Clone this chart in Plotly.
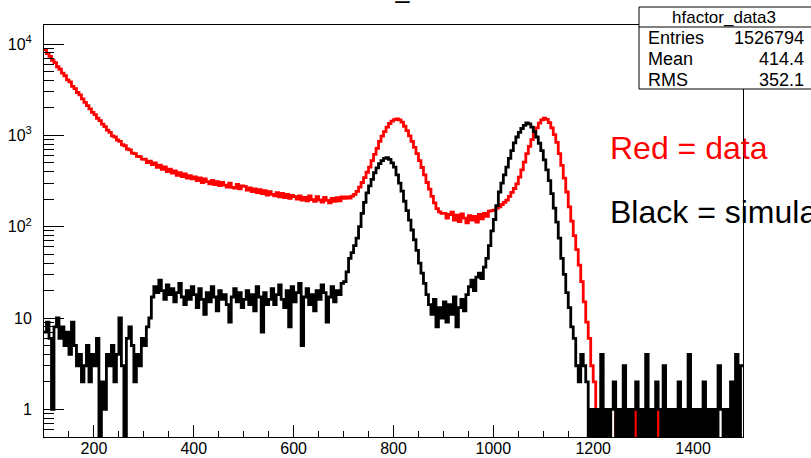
import plotly.graph_objects as go

# ---------------- data (bin counts, 5-unit bins from 100 to 1500) ----------------
X_START = 100
BIN_W = 5

red_data = [
    8650, 7850, 7350, 6650, 6250, 5650, 5300, 4800, 4500, 4050, 3850, 3450, 3250, 2950, 2780, 2510, 2300, 2120, 1950, 1790,
    1690, 1540, 1450, 1330, 1250, 1140, 1080, 990, 960, 890, 860, 790, 770, 710, 695, 640, 630, 590, 585, 550,
    548, 505, 522, 478, 500, 448, 472, 425, 452, 402, 428, 386, 408, 366, 392, 354, 378, 340, 362, 334,
    352, 320, 342, 305, 334, 312, 295, 322, 290, 312, 282, 305, 286, 272, 300, 270, 264, 290, 260, 280,
    276, 252, 266, 242, 260, 236, 254, 230, 248, 222, 242, 226, 218, 236, 212, 232, 208, 226, 204, 220,
    214, 200, 218, 195, 210, 192, 218, 198, 190, 214, 196, 186, 210, 194, 182, 204, 190, 208, 192, 212,
    205, 212, 206, 216, 226, 244, 272, 305, 345, 395, 450, 530, 620, 720, 860, 980, 1100, 1230, 1350, 1430,
    1490, 1520, 1480, 1400, 1260, 1130, 990, 860, 740, 630, 530, 445, 370, 305, 258, 215, 182, 158, 145, 140,
    140, 124, 136, 144, 118, 134, 114, 138, 124, 110, 132, 118, 130, 112, 136, 122, 140, 130, 148, 150,
    152, 160, 165, 175, 185, 195, 215, 238, 262, 295, 350, 420, 510, 630, 760, 900, 1050, 1210, 1360, 1480,
    1540, 1500, 1380, 1210, 1020, 840, 630, 470, 340, 240, 165, 115, 80, 56, 38, 25, 15, 9, 6, 3,
    2, 1, 1, 0, 1, 0, 1, 0, 0, 1, 0, 0, 1, 0, 0, 0, 1, 0, 0, 0,
    0, 1, 0, 0, 0, 1, 0, 0, 0, 0, 1, 0, 0, 0, 0, 0, 1, 0, 0, 0,
    0, 0, 1, 0, 0, 0, 0, 1, 0, 0, 0, 0, 0, 1, 0, 0, 0, 0, 0, 0,
]

black_sim = [
    7, 9, 6, 1, 8, 10, 6, 8, 5, 7, 4, 9, 5, 3, 4, 2, 3, 5, 2, 4,
    3, 6, 0, 2, 1, 4, 3, 5, 2, 4, 10, 3, 0, 6, 8, 5, 2, 4, 3, 6,
    5, 8, 10, 17, 22, 19, 26, 20, 16, 23, 18, 21, 15, 19, 24, 17, 14, 20, 16, 22,
    18, 13, 21, 16, 11, 19, 15, 22, 17, 12, 20, 16, 18, 14, 9, 17, 21, 15, 19, 13,
    16, 20, 14, 18, 12, 22, 17, 7, 19, 14, 16, 21, 14, 18, 23, 16, 13, 20, 8, 22,
    15, 19, 24, 5, 17, 21, 14, 18, 12, 20, 16, 23, 19, 9, 17, 22, 15, 20, 18, 24,
    25, 32, 45, 52, 62, 75, 100, 140, 185, 235, 280, 330, 390, 440, 490, 530, 560, 570, 545, 500,
    450, 370, 300, 245, 190, 150, 118, 92, 72, 55, 40, 31, 24, 18, 14, 11, 16, 8, 13, 10,
    15, 9, 14, 11, 17, 8, 13, 16, 12, 18, 22, 26, 20, 28, 31, 27, 36, 45, 62, 90,
    120, 170, 240, 300, 370, 450, 560, 680, 830, 960, 1080, 1190, 1290, 1370, 1340, 1230, 1100, 960, 820, 680,
    540, 420, 320, 230, 160, 112, 75, 45, 30, 19, 13, 8, 6, 3, 2, 4, 3, 2, 0, 1,
    0, 1, 0, 4, 0, 1, 0, 1, 2, 0, 1, 0, 3, 0, 1, 0, 1, 2, 0, 1,
    0, 4, 0, 1, 0, 2, 1, 0, 3, 0, 1, 0, 1, 0, 2, 0, 1, 0, 4, 0,
    1, 0, 1, 0, 2, 0, 1, 0, 1, 0, 3, 1, 0, 1, 0, 2, 0, 4, 0, 3,
]

x_tick_vals = [200, 400, 600, 800, 1000, 1200, 1400]
y_tick_vals = [1, 10, 100, 1000, 10000]
y_tick_text = ["1", "10", "10<sup>2</sup>", "10<sup>3</sup>", "10<sup>4</sup>"]

stats_title = "hfactor_data3"
stats_rows = [("Entries", "1526794"), ("Mean", "414.4"), ("RMS", "352.1")]
hist_title = "hfactor_data3"
legend_lines = [("Red = data", "#ff0000"), ("Black = simulation", "#000000")]

# ---------------- layout geometry (pixels) ----------------
W, H = 811, 458
L, R, T, B = 44, 743, 25, 437
FONT = "Liberation Sans, Arial, Helvetica, sans-serif"
ZERO_FLOOR = 0.01  # empty bins drawn down past the bottom of the log axis


def px(x):
    return (x - L) / (R - L)


def py(y):
    return (B - y) / (B - T)


def step_xy(vals):
    xs = [X_START + BIN_W * i for i in range(len(vals) + 1)]
    ys = [v if v > 0 else ZERO_FLOOR for v in vals]
    ys = ys + [ys[-1]]
    return xs, ys


fig = go.Figure()
for vals, col in ((red_data, "#ff0000"), (black_sim, "#000000")):
    xs, ys = step_xy(vals)
    fig.add_trace(go.Scatter(x=xs, y=ys, mode="lines", line=dict(color=col, width=2.8, shape="hv"),
                             hoverinfo="skip", showlegend=False))

minor_y = []
for dec in [0.1, 1, 10, 100, 1000]:
    for k in range(2, 10):
        v = k * dec
        if 0.5 < v < 16000 and v not in y_tick_vals:
            minor_y.append(v)

fig.update_layout(
    width=W, height=H,
    margin=dict(l=L, r=W - R, t=T, b=H - B, pad=0, autoexpand=False),
    paper_bgcolor="white", plot_bgcolor="white",
    font=dict(family=FONT, size=16, color="black"),
    showlegend=False,
    xaxis=dict(range=[100, 1500], showgrid=False, zeroline=False, automargin=False,
               showline=True, linecolor="black", linewidth=1, mirror=True,
               ticks="inside", ticklen=12, tickwidth=1, tickcolor="black",
               tickmode="array", tickvals=x_tick_vals,
               tickfont=dict(family=FONT, size=16), ticklabelstandoff=-3,
               minor=dict(ticks="inside", ticklen=6, tickwidth=1, tickcolor="black",
                          dtick=50, tick0=100, showgrid=False)),
    yaxis=dict(type="log", range=[-0.303, 4.209], showgrid=False, zeroline=False, automargin=False,
               showline=True, linecolor="black", linewidth=1, mirror=True,
               ticks="inside", ticklen=20, tickwidth=1, tickcolor="black",
               tickmode="array", tickvals=y_tick_vals, ticktext=y_tick_text,
               tickfont=dict(family=FONT, size=16), ticklabelstandoff=8,
               minor=dict(ticks="inside", ticklen=10, tickwidth=1, tickcolor="black",
                          tickvals=minor_y, showgrid=False)),
)

shapes = [
    dict(type="rect", xref="paper", yref="paper", x0=px(639), x1=px(815), y0=py(89), y1=py(7),
         line=dict(color="black", width=1), fillcolor="white", layer="above"),
    dict(type="line", xref="paper", yref="paper", x0=px(639), x1=px(815), y0=py(27), y1=py(27),
         line=dict(color="black", width=1), layer="above"),
]
fig.update_layout(shapes=shapes)

ann = []
# cut-off histogram title at the very top
ann.append(dict(text=hist_title, xref="paper", yref="paper", x=px(316.6), y=py(-11),
                xanchor="left", yanchor="middle", showarrow=False,
                font=dict(family=FONT, size=25, color="black")))
# stats box
ann.append(dict(text=stats_title, xref="paper", yref="paper", x=px(724), y=py(17),
                xanchor="center", yanchor="middle", showarrow=False,
                font=dict(family=FONT, size=17, color="black")))
row_y = [38, 59, 80]
for (lab, val), yy in zip(stats_rows, row_y):
    ann.append(dict(text=lab, xref="paper", yref="paper", x=px(646), y=py(yy),
                    xanchor="left", yanchor="middle", showarrow=False,
                    font=dict(family=FONT, size=18, color="black")))
    ann.append(dict(text=val, xref="paper", yref="paper", x=px(806), y=py(yy),
                    xanchor="right", yanchor="middle", showarrow=False,
                    font=dict(family=FONT, size=18, color="black")))
# legend text
for (txt, col), yy in zip(legend_lines, [147.5, 212]):
    ann.append(dict(text=txt, xref="paper", yref="paper", x=px(608), y=py(yy),
                    xanchor="left", yanchor="middle", showarrow=False,
                    font=dict(family=FONT, size=32, color=col)))
fig.update_layout(annotations=ann)

fig.write_html("out.html")
